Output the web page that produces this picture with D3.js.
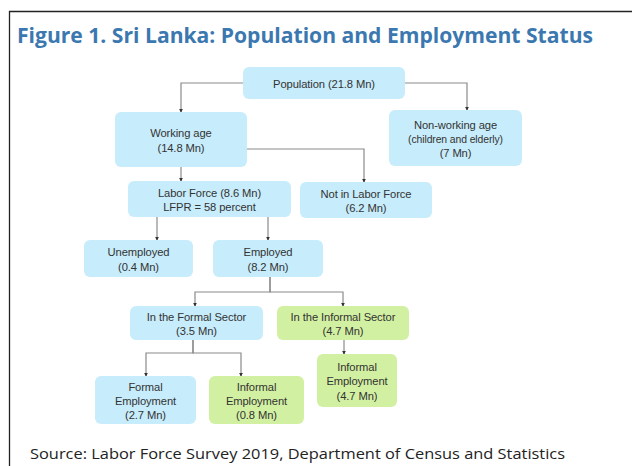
<!DOCTYPE html>
<html>
<head>
<meta charset="utf-8">
<script src="https://cdn.jsdelivr.net/npm/d3@7"></script>
<style>
  body { margin: 0; background: #fff; }
  svg { display: block; }
</style>
</head>
<body>
<svg id="chart" width="632" height="466"></svg>
<script>
// ---- data ---------------------------------------------------------
const nodeIds = ["pop", "work", "nonwork", "lf", "nlf", "unemp", "emp", "fsec", "isec", "femp", "iemp", "iemp2"];
const nodeNames = [
    ["Population"], ["Working age"], ["Non-working age"], ["Labor Force"], ["Not in Labor Force"],
    ["Unemployed"], ["Employed"], ["In the Formal Sector"], ["In the Informal Sector"],
    ["Formal", "Employment"], ["Informal", "Employment"], ["Informal", "Employment"]
];
const nodeValues = [21.8, 14.8, 7, 8.6, 6.2, 0.4, 8.2, 3.5, 4.7, 2.7, 0.8, 4.7];
const inlineValue = ["pop", "lf"];               // value printed on the same line as the name
const nodeNotes = { nonwork: "(children and elderly)", lf: "LFPR = 58 percent" };
const informal = ["isec", "iemp", "iemp2"];      // green boxes
const links = [
    ["pop", "work"], ["pop", "nonwork"], ["work", "nlf"], ["work", "lf"],
    ["lf", "unemp"], ["lf", "emp"], ["emp", "fsec"], ["emp", "isec"],
    ["fsec", "femp"], ["fsec", "iemp"], ["isec", "iemp2"]
];
const title = "Figure 1. Sri Lanka: Population and Employment Status";
const source = "Source: Labor Force Survey 2019, Department of Census and Statistics";

// ---- layout (pixels) ----------------------------------------------
const layout = {
    pop:    { x: 243, y: 67,  w: 162, h: 32 },
    work:   { x: 115, y: 112, w: 132, h: 55 },
    nonwork:{ x: 389, y: 110, w: 133, h: 56 },
    lf:     { x: 128, y: 181, w: 163, h: 36 },
    nlf:    { x: 300, y: 182, w: 132, h: 36 },
    unemp:  { x: 84,  y: 240, w: 109, h: 37 },
    emp:    { x: 213, y: 240, w: 110, h: 37 },
    fsec:   { x: 130, y: 306, w: 133, h: 34 },
    isec:   { x: 277, y: 306, w: 132, h: 34 },
    femp:   { x: 95,  y: 376, w: 101, h: 48 },
    iemp:   { x: 209, y: 376, w: 95,  h: 48 },
    iemp2:  { x: 317, y: 354, w: 80,  h: 53 }
};
// how each connector leaves its parent: side exit at y, or a bus below the parent
const routing = {
    "pop-work":    { exit: "left",  y: 83,  dropX: 181 },
    "pop-nonwork": { exit: "right", y: 83,  dropX: 467 },
    "work-nlf":    { exit: "right", y: 149, dropX: 364 },
    "work-lf":     { exit: "down",  fromX: 181, dropX: 181 },
    "lf-unemp":    { exit: "down",  fromX: 157, dropX: 157 },
    "lf-emp":      { exit: "down",  fromX: 268, dropX: 268 },
    "emp-fsec":    { exit: "bus",   fromX: 270, busY: 292, dropX: 195 },
    "emp-isec":    { exit: "bus",   fromX: 270, busY: 292, dropX: 343 },
    "fsec-femp":   { exit: "bus",   fromX: 193, busY: 353, dropX: 146 },
    "fsec-iemp":   { exit: "bus",   fromX: 193, busY: 353, dropX: 241 },
    "isec-iemp2":  { exit: "down",  fromX: 344, dropX: 344 }
};

const svg = d3.select("#chart");

// frame
svg.append("path")
    .attr("d", "M9.5,470V11.5H640")
    .attr("fill", "none")
    .attr("stroke", "#222")
    .attr("stroke-width", 1.3);

// title
const fit = (sel, width) => {
    sel.attr("textLength", width).attr("lengthAdjust", "spacingAndGlyphs");
};
const titleText = svg.append("text")
    .attr("x", 17).attr("y", 43)
    .attr("font-family", "Open Sans, sans-serif")
    .attr("font-weight", 700)
    .attr("font-size", 22)
    .attr("fill", "#3b78b0")
    .text(title);
fit(titleText, 576);

// marker
svg.append("defs").append("marker")
    .attr("id", "tip")
    .attr("viewBox", "0 0 6 6")
    .attr("refX", 5).attr("refY", 3)
    .attr("markerWidth", 4).attr("markerHeight", 4)
    .attr("markerUnits", "userSpaceOnUse")
    .attr("orient", "auto")
    .append("path")
    .attr("d", "M0,0L6,3L0,6Z")
    .attr("fill", "#333");

// connectors
const line = d3.line();
svg.append("g")
    .selectAll("path")
    .data(links)
    .join("path")
    .attr("fill", "none")
    .attr("stroke", "#8a8a8a")
    .attr("stroke-width", 1.2)
    .attr("marker-end", "url(#tip)")
    .attr("d", ([p, c]) => {
        const a = layout[p], b = layout[c], r = routing[p + "-" + c];
        let pts;
        if (r.exit === "left") pts = [[a.x, r.y], [r.dropX, r.y], [r.dropX, b.y]];
        else if (r.exit === "right") pts = [[a.x + a.w, r.y], [r.dropX, r.y], [r.dropX, b.y]];
        else if (r.exit === "bus") pts = [[r.fromX, a.y + a.h], [r.fromX, r.busY], [r.dropX, r.busY], [r.dropX, b.y]];
        else pts = [[r.fromX, a.y + a.h], [r.dropX, b.y]];
        return line(pts);
    });

// boxes
const nodes = nodeIds.map((id, i) => {
    const lines = nodeNames[i].slice();
    const val = `(${nodeValues[i]} Mn)`;
    const rows = [];
    if (inlineValue.includes(id)) {
        rows.push({ t: lines[0] + " " + val, small: false });
    } else {
        lines.forEach(l => rows.push({ t: l, small: false }));
    }
    if (nodeNotes[id] && id === "nonwork") rows.push({ t: nodeNotes[id], small: true });
    if (!inlineValue.includes(id)) rows.push({ t: val, small: false });
    if (nodeNotes[id] && id === "lf") rows.push({ t: nodeNotes[id], small: false });
    return { id, rows, box: layout[id], green: informal.includes(id) };
});

const g = svg.append("g")
    .selectAll("g")
    .data(nodes)
    .join("g")
    .attr("transform", d => `translate(${d.box.x},${d.box.y})`);

g.append("rect")
    .attr("width", d => d.box.w)
    .attr("height", d => d.box.h)
    .attr("rx", 6)
    .attr("fill", d => d.green ? "#d2f0a2" : "#c7ecfb");

g.each(function (d) {
    const n = d.rows.length;
    const lh = 14.2;
    const cy = d.box.h / 2 + 1;
    d3.select(this).selectAll("text")
        .data(d.rows)
        .join("text")
        .attr("x", d.box.w / 2)
        .attr("y", (r, i) => cy + (i - (n - 1) / 2) * lh)
        .attr("dy", "0.35em")
        .attr("text-anchor", "middle")
        .attr("font-family", "Liberation Sans, Arial, sans-serif")
        .attr("font-size", r => r.small ? 10.4 : 11.2)
        .attr("letter-spacing", r => r.small ? -0.1 : -0.1)
        .attr("fill", "#333")
        .text(r => r.t);
});

// source
const src = svg.append("text")
    .attr("x", 30).attr("y", 459)
    .attr("font-family", "Open Sans, sans-serif")
    .attr("font-size", 15)
    .attr("fill", "#222")
    .text(source);
fit(src, 535);
</script>
</body>
</html>
